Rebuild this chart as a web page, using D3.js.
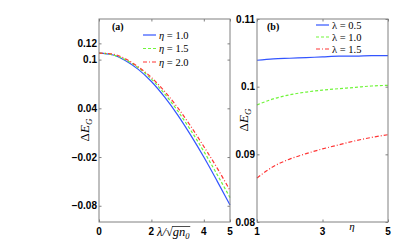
<!DOCTYPE html>
<html>
<head>
<meta charset="utf-8">
<script src="https://cdn.jsdelivr.net/npm/d3@7"></script>
<style>
  body { margin: 0; background: #fff; }
  svg { display: block; }
</style>
</head>
<body>
<div id="chart"></div>
<script>
// panel (a): energy gap vs lambda for three eta
var lambdaVals = [0, 0.5, 1, 1.5, 2, 2.5, 3, 3.5, 4, 4.5, 5];
var gapEta10 = [0.108, 0.106, 0.099, 0.088, 0.073, 0.054, 0.032, 0.007, -0.020, -0.049, -0.079];
var gapEta15 = [0.108, 0.106, 0.100, 0.090, 0.076, 0.058, 0.037, 0.013, -0.013, -0.041, -0.070];
var gapEta20 = [0.108, 0.107, 0.101, 0.091, 0.078, 0.061, 0.041, 0.018, -0.007, -0.033, -0.061];
var etaNames = ["1.0", "1.5", "2.0"];

// panel (b): energy gap vs eta for three lambda
var etaVals = [1, 1.5, 2, 2.5, 3, 3.5, 4, 4.5, 5];
var gapLam05 = [0.1039, 0.1041, 0.1042, 0.1043, 0.1044, 0.1045, 0.1045, 0.1046, 0.1046];
var gapLam10 = [0.0973, 0.0982, 0.0988, 0.0992, 0.0995, 0.0997, 0.0999, 0.1001, 0.1002];
var gapLam15 = [0.0865, 0.0882, 0.0893, 0.0901, 0.0908, 0.0914, 0.0920, 0.0925, 0.0929];
var lamNames = ["0.5", "1.0", "1.5"];

// tick labels
var xTicksA = [0, 2, 4, 5];
var yTicksA = [0.12, 0.1, 0.04, -0.02, -0.08];
var yLabelsA = ["0.12", "0.1", "0.04", "\u22120.02", "\u22120.08"];
var xTicksB = [1, 3, 5];
var yTicksB = [0.11, 0.1, 0.09, 0.08];
var yLabelsB = ["0.11", "0.1", "0.09", "0.08"];

var colors = ["#3355ff", "#70f53a", "#ff3535"];
var dashes = [null, "3,2", "4,2,1,2"];
var axisGray = "#808080";
var tickFont = "'Liberation Sans', Arial, sans-serif";
var mathFont = "'Liberation Serif', 'Times New Roman', serif";

var svg = d3.select("#chart").append("svg")
    .attr("width", 415)
    .attr("height", 250);

function drawPanel(opt) {
  var x = opt.x, y = opt.y;
  var g = svg.append("g");
  var x0 = x.range()[0], x1 = x.range()[1];
  var y0 = y.range()[0], y1 = y.range()[1];

  // inward ticks on all four sides
  var axes = [
    [d3.axisBottom(x).tickValues(opt.xTicks), 0, y0],
    [d3.axisTop(x).tickValues(opt.xTicks), 0, y1],
    [d3.axisLeft(y).tickValues(opt.yTicks), x0, 0],
    [d3.axisRight(y).tickValues(opt.yTicks), x1, 0]
  ];
  axes.forEach(function(a) {
    var ax = g.append("g")
        .attr("transform", "translate(" + a[1] + "," + a[2] + ")")
        .call(a[0].tickSize(-2.5).tickFormat(""));
    ax.select(".domain").remove();
    ax.selectAll("line").attr("stroke", axisGray);
  });

  // data lines
  var line = d3.line()
      .x(function(d) { return x(d[0]); })
      .y(function(d) { return y(d[1]); })
      .curve(d3.curveMonotoneX);
  opt.series.forEach(function(s, i) {
    g.append("path")
        .datum(opt.xs.map(function(v, j) { return [v, s[j]]; }))
        .attr("d", line)
        .attr("fill", "none")
        .attr("stroke", colors[i])
        .attr("stroke-width", 1.2)
        .attr("stroke-dasharray", dashes[i]);
  });

  // frame
  g.append("rect")
      .attr("x", x0).attr("y", y1)
      .attr("width", x1 - x0).attr("height", y0 - y1)
      .attr("fill", "none")
      .attr("stroke", axisGray)
      .attr("stroke-width", 1);

  // tick labels
  g.selectAll(".xl").data(opt.xTicks).enter().append("text")
      .attr("x", function(d) { return x(d); })
      .attr("y", y0 + 12.5)
      .attr("text-anchor", "middle")
      .attr("font-family", tickFont)
      .attr("font-weight", "bold")
      .attr("font-size", 10)
      .text(function(d) { return d; });
  g.selectAll(".yl").data(opt.yTicks).enter().append("text")
      .attr("x", x0 - 2)
      .attr("y", function(d) { return y(d); })
      .attr("dy", "0.35em")
      .attr("text-anchor", "end")
      .attr("font-family", tickFont)
      .attr("font-weight", "bold")
      .attr("font-size", 10)
      .text(function(d, i) { return opt.yLabels[i]; });

  // panel tag
  g.append("text")
      .attr("x", opt.tag[0]).attr("y", opt.tag[1])
      .attr("font-family", mathFont)
      .attr("font-weight", "bold")
      .attr("font-size", 10)
      .text(opt.tag[2]);

  // legend
  opt.legendNames.forEach(function(name, i) {
    var ly = opt.legend[1] + i * opt.legend[3];
    g.append("line")
        .attr("x1", opt.legend[0]).attr("x2", opt.legend[0] + 13)
        .attr("y1", ly).attr("y2", ly)
        .attr("stroke", colors[i])
        .attr("stroke-width", 1.2)
        .attr("stroke-dasharray", dashes[i]);
    var t = g.append("text")
        .attr("x", opt.legend[0] + 16).attr("y", ly + 3.5)
        .attr("font-family", mathFont)
        .attr("font-size", 10.5);
    t.append("tspan").attr("font-style", opt.legend[2] ? "italic" : "normal").text(opt.legend[2] ? "\u03b7" : "\u03bb");
    t.append("tspan").text(" = " + name);
  });

  // y label
  var yl = g.append("text")
      .attr("transform", "translate(" + opt.yLab[0] + "," + opt.yLab[1] + ") rotate(-90)")
      .attr("text-anchor", "middle")
      .attr("font-family", mathFont)
      .attr("font-style", "italic")
      .attr("font-size", 13);
  yl.append("tspan").attr("font-style", "normal").text("\u0394");
  yl.append("tspan").text("E");
  yl.append("tspan").attr("font-size", 9).attr("dy", 3).text("G");
  return g;
}

var gA = drawPanel({
  x: d3.scaleLinear().domain([0, 5]).range([99, 230]),
  y: d3.scaleLinear().domain([-0.1, 0.15]).range([222, 19]),
  xs: lambdaVals,
  series: [gapEta10, gapEta15, gapEta20],
  xTicks: xTicksA, yTicks: yTicksA, yLabels: yLabelsA,
  tag: [112, 30, "(a)"],
  legend: [143, 35, true, 13.5],
  legendNames: etaNames,
  yLab: [89, 130]
});

var gB = drawPanel({
  x: d3.scaleLinear().domain([1, 5]).range([257, 388]),
  y: d3.scaleLinear().domain([0.08, 0.11]).range([222, 19]),
  xs: etaVals,
  series: [gapLam05, gapLam10, gapLam15],
  xTicks: xTicksB, yTicks: yTicksB, yLabels: yLabelsB,
  tag: [267, 30, "(b)"],
  legend: [316, 25, false, 12],
  legendNames: lamNames,
  yLab: [248, 120]
});

// x label of panel (a): lambda / sqrt(g n0)
var xl = gA.append("text")
    .attr("x", 157).attr("y", 236)
    .attr("font-family", mathFont)
    .attr("font-style", "italic")
    .attr("font-size", 12.5);
xl.append("tspan").text("\u03bb/\u221a");
var rad = xl.append("tspan").text("gn");
xl.append("tspan").attr("font-size", 8.5).attr("dy", 2.5).text("0");
var full = xl.node().getBBox();
var pre = xl.node().getSubStringLength(0, 3);
gA.append("line")
    .attr("x1", 157 + pre - 0.5).attr("x2", full.x + full.width)
    .attr("y1", full.y + 1.5).attr("y2", full.y + 1.5)
    .attr("stroke", "#000").attr("stroke-width", 0.7);

// x label of panel (b)
gB.append("text")
    .attr("x", 352).attr("y", 230)
    .attr("text-anchor", "middle")
    .attr("font-family", mathFont)
    .attr("font-style", "italic")
    .attr("font-size", 11)
    .text("\u03b7");
</script>
</body>
</html>
